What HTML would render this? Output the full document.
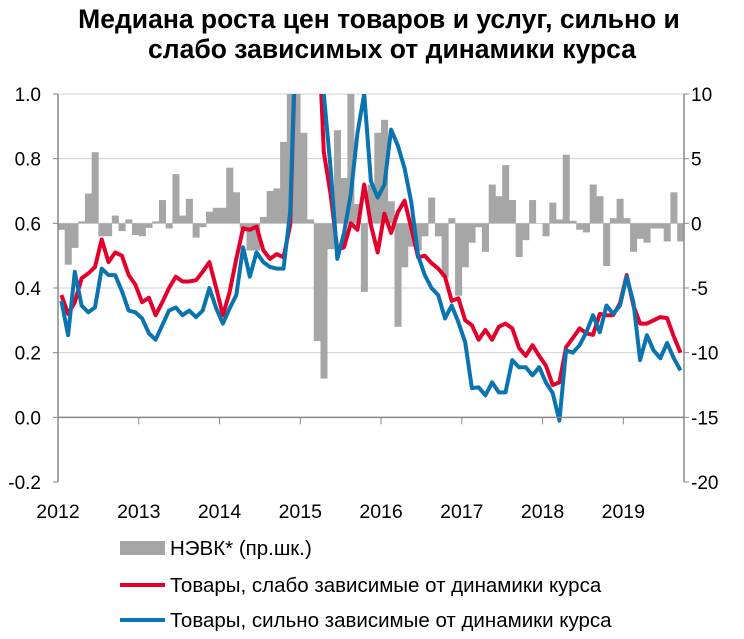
<!DOCTYPE html>
<html><head><meta charset="utf-8"><style>
body{margin:0;background:#fff;width:744px;height:639px;overflow:hidden;font-family:"Liberation Sans",sans-serif}
svg{display:block}
</style></head><body>
<svg id="chart" width="744" height="639" font-family="Liberation Sans, sans-serif">
<text x="379" y="28" text-anchor="middle" font-size="26.5" font-weight="bold">Медиана роста цен товаров и услуг, сильно и</text>
<text x="392" y="58" text-anchor="middle" font-size="26.5" font-weight="bold">слабо зависимых от динамики курса</text>
<defs><clipPath id="plotclip"><rect x="58" y="94" width="626" height="388"/></clipPath></defs>
<g id="grid"></g>
<g id="bars" clip-path="url(#plotclip)"></g>
<g id="lines" clip-path="url(#plotclip)"></g>
<g id="axes"></g>
<g>
<rect x="120" y="541" width="45" height="14" fill="#a6a6a6"/>
<text x="170" y="555" font-size="20.5">НЭВК* (пр.шк.)</text>
<line x1="120" y1="585" x2="165" y2="585" stroke="#e4002b" stroke-width="4"/>
<text x="170" y="592" font-size="20.5">Товары, слабо зависимые от динамики курса</text>
<line x1="120" y1="620" x2="165" y2="620" stroke="#0a74b0" stroke-width="4"/>
<text x="170" y="627" font-size="20.5">Товары, сильно зависимые от динамики курса</text>
</g>
</svg>
<script>
const yearLabels=["2012","2013","2014","2015","2016","2017","2018","2019"];
const leftTicks=[1.0,0.8,0.6,0.4,0.2,0.0,-0.2];
const rightTicks=[10,5,0,-5,-10,-15,-20];
const weakSeries=[0.378,0.32,0.356,0.43,0.445,0.465,0.55,0.48,0.51,0.50,0.44,0.41,0.356,0.37,0.316,0.356,0.40,0.435,0.42,0.42,0.424,0.45,0.48,0.40,0.316,0.387,0.49,0.585,0.58,0.59,0.517,0.49,0.505,0.495,0.595,1.3,1.6,1.6,1.3,0.82,0.69,0.52,0.526,0.60,0.58,0.72,0.595,0.51,0.63,0.57,0.635,0.67,0.585,0.495,0.50,0.477,0.46,0.435,0.36,0.368,0.30,0.285,0.24,0.27,0.24,0.28,0.29,0.275,0.215,0.19,0.223,0.19,0.16,0.10,0.108,0.217,0.245,0.275,0.26,0.255,0.32,0.316,0.316,0.353,0.44,0.346,0.29,0.29,0.30,0.31,0.307,0.25,0.20];
const strongSeries=[0.36,0.254,0.45,0.346,0.325,0.34,0.46,0.44,0.44,0.39,0.33,0.325,0.306,0.26,0.24,0.285,0.33,0.34,0.316,0.33,0.31,0.33,0.40,0.337,0.29,0.337,0.378,0.526,0.435,0.51,0.48,0.465,0.46,0.46,0.635,1.3,1.6,1.6,1.4,1.0,0.77,0.49,0.57,0.69,0.88,1.0,0.73,0.68,0.72,0.89,0.84,0.77,0.665,0.50,0.44,0.40,0.378,0.306,0.346,0.294,0.232,0.09,0.093,0.068,0.108,0.077,0.077,0.177,0.155,0.155,0.13,0.155,0.108,0.075,-0.01,0.207,0.20,0.223,0.263,0.316,0.263,0.346,0.32,0.346,0.435,0.356,0.177,0.254,0.207,0.183,0.23,0.183,0.145];
const nevkSeries=[-0.5,-3.2,-1.9,0.15,2.3,5.5,-1.0,-1.0,0.6,-0.6,0.3,-0.9,-1.0,-0.35,0.15,1.8,-0.4,3.8,0.6,1.9,-1.1,-0.3,0.9,1.2,1.2,4.3,2.4,-0.4,-2.1,-2.1,0.5,2.5,2.7,6.3,12,12,7.0,0.3,-9.1,-12.0,-2.0,7.2,3.5,10.5,1.5,-5.3,3.0,7.0,8.0,1.7,-8.0,-3.4,-1.8,-2.1,-1.0,2.0,-1.0,-4.2,0.4,-5.6,-3.4,-1.5,-0.3,-2.2,3.0,2.1,4.5,1.8,-2.6,-1.3,1.8,0.0,-1.0,1.6,0.3,5.3,0.2,-0.5,-0.7,3.0,2.1,-3.3,0.4,1.9,0.4,-2.2,-1.2,-1.5,-0.4,-0.4,-1.4,2.4,-1.4];

const NS="http://www.w3.org/2000/svg";
const X0=58,MW=6.73,YT=94,YB=482;
const xM=i=>X0+(i+0.5)*MW;
const xYear=k=>X0+k*12*MW;
const yL=v=>YT+(1.0-v)/1.2*(YB-YT);
const yR=v=>YT+(10-v)/30*(YB-YT);
function mk(tag,attrs,parent){const e=document.createElementNS(NS,tag);for(const k in attrs)e.setAttribute(k,attrs[k]);parent.appendChild(e);return e;}
const grid=document.getElementById('grid'),axes=document.getElementById('axes'),bars=document.getElementById('bars'),lines=document.getElementById('lines');
leftTicks.forEach(v=>{
  if(v>0){const g=mk('line',{x1:X0,x2:684,y1:yL(v),y2:yL(v),stroke:'#d0d0d0','stroke-width':1},grid);
  
  }
  const t=mk('text',{x:41,y:yL(v)+7,'text-anchor':'end','font-size':19},axes);
  t.textContent=v.toFixed(1);
  
  
  const tk=mk('line',{x1:X0-5,x2:X0,y1:yL(v),y2:yL(v),stroke:'#888'},axes);
  
  
});
rightTicks.forEach(v=>{
  const t=mk('text',{x:691,y:yR(v)+7,'font-size':19},axes);
  t.textContent=String(v);
  
  
  const tk=mk('line',{x1:684,x2:689,y1:yR(v),y2:yR(v),stroke:'#888'},axes);
  
  
});
nevkSeries.forEach((v,i)=>{
  const y0=yR(0),y1=yR(v);
  const r=mk('rect',{x:X0+i*MW,y:Math.min(y0,y1),width:MW+0.3,height:Math.abs(y1-y0),fill:'#a6a6a6'},bars);
  
  
});
function drawLine(arr,color,name){
  const d=arr.map((v,i)=>(i?'L':'M')+xM(i).toFixed(1)+','+yL(v).toFixed(1)).join('');
  const p=mk('path',{d:d,fill:'none',stroke:color,'stroke-width':4,'stroke-linejoin':'round'},lines);
  
  
}
drawLine(weakSeries,'#e4002b','weak-dependence-line');
drawLine(strongSeries,'#0a74b0','strong-dependence-line');
const la=mk('line',{x1:X0,x2:X0,y1:YT,y2:YB,stroke:'#888','stroke-width':1.5},axes);


const ra=mk('line',{x1:684,x2:684,y1:YT,y2:YB,stroke:'#888','stroke-width':1.5},axes);


const xa=mk('line',{x1:X0,x2:684,y1:yL(0),y2:yL(0),stroke:'#888','stroke-width':1.5},axes);


yearLabels.forEach((lab,k)=>{
  const x=xYear(k);
  const tk=mk('line',{x1:x,x2:x,y1:yL(0),y2:yL(0)+7,stroke:'#888'},axes);
  
  
  const t=mk('text',{x:x,y:518,'text-anchor':'middle','font-size':19.5},axes);
  t.textContent=lab;
  
  
});
</script>
</body></html>
